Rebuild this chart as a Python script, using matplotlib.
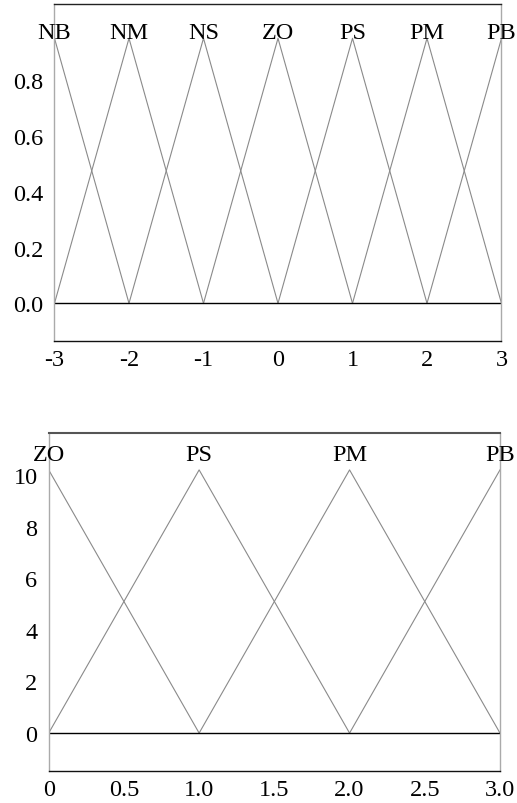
import matplotlib
matplotlib.use("Agg")
import matplotlib.pyplot as plt

# ---- data ----
top_names = ["NB", "NM", "NS", "ZO", "PS", "PM", "PB"]
top_centers = [-3, -2, -1, 0, 1, 2, 3]
top_peak = 0.95
top_xticks = [-3, -2, -1, 0, 1, 2, 3]
top_xticklabels = ["-3", "-2", "-1", "0", "1", "2", "3"]
top_yticks = [0.0, 0.2, 0.4, 0.6, 0.8]
top_yticklabels = ["0.0", "0.2", "0.4", "0.6", "0.8"]

bot_names = ["ZO", "PS", "PM", "PB"]
bot_centers = [0, 1, 2, 3]
bot_peak = 10.2
bot_xticks = [0, 0.5, 1.0, 1.5, 2.0, 2.5, 3.0]
bot_xticklabels = ["0", "0.5", "1.0", "1.5", "2.0", "2.5", "3.0"]
bot_yticks = [0, 2, 4, 6, 8, 10]
bot_yticklabels = ["0", "2", "4", "6", "8", "10"]

plt.rcParams["font.family"] = ["Liberation Serif", "DejaVu Serif"]

fig = plt.figure(figsize=(5.17, 8.04), dpi=100)
ax1 = fig.add_axes([0.1054, 0.575, 0.8646, 0.4188])
ax2 = fig.add_axes([0.0942, 0.0398, 0.8729, 0.4204])

LINE_GRAY = "#8a8a8a"
FS = 17.5


def draw(ax, names, centers, peak, xlim, ylim, xticks, xtl, yticks, ytl, label_off):
    lo, hi = min(centers), max(centers)
    for name, c in zip(names, centers):
        xs, ys = [], []
        if c - 1 >= lo:
            xs.append(c - 1); ys.append(0)
        xs.append(c); ys.append(peak)
        if c + 1 <= hi:
            xs.append(c + 1); ys.append(0)
        ax.plot(xs, ys, color=LINE_GRAY, lw=0.8)
        ax.annotate(name, (c, peak), xytext=(0, label_off), textcoords="offset points",
                    ha="center", va="baseline", fontsize=FS)
    ax.plot([lo, hi], [0, 0], color="black", lw=1.0)
    ax.set_xlim(*xlim)
    ax.set_ylim(*ylim)
    ax.set_xticks(xticks)
    ax.set_xticklabels(xtl)
    ax.set_yticks(yticks)
    ax.set_yticklabels(ytl)
    ax.tick_params(length=0, labelsize=FS)
    ax.tick_params(axis="x", pad=6)
    ax.tick_params(axis="y", pad=8)
    ax.spines["top"].set_color("#222222")
    ax.spines["bottom"].set_color("#111111")
    ax.spines["left"].set_color("#aaaaaa")
    ax.spines["right"].set_color("#aaaaaa")
    for s in ax.spines.values():
        s.set_linewidth(1.0)


draw(ax1, top_names, top_centers, top_peak, (-3, 3), (-0.134, 1.073),
     top_xticks, top_xticklabels, top_yticks, top_yticklabels, 0.5)
draw(ax2, bot_names, bot_centers, bot_peak, (0, 3), (-1.47, 11.63),
     bot_xticks, bot_xticklabels, bot_yticks, bot_yticklabels, 7)
ax2.spines["top"].set_color("#555555")
ax2.spines["top"].set_linewidth(1.5)

fig.savefig("out.png", dpi=100)
